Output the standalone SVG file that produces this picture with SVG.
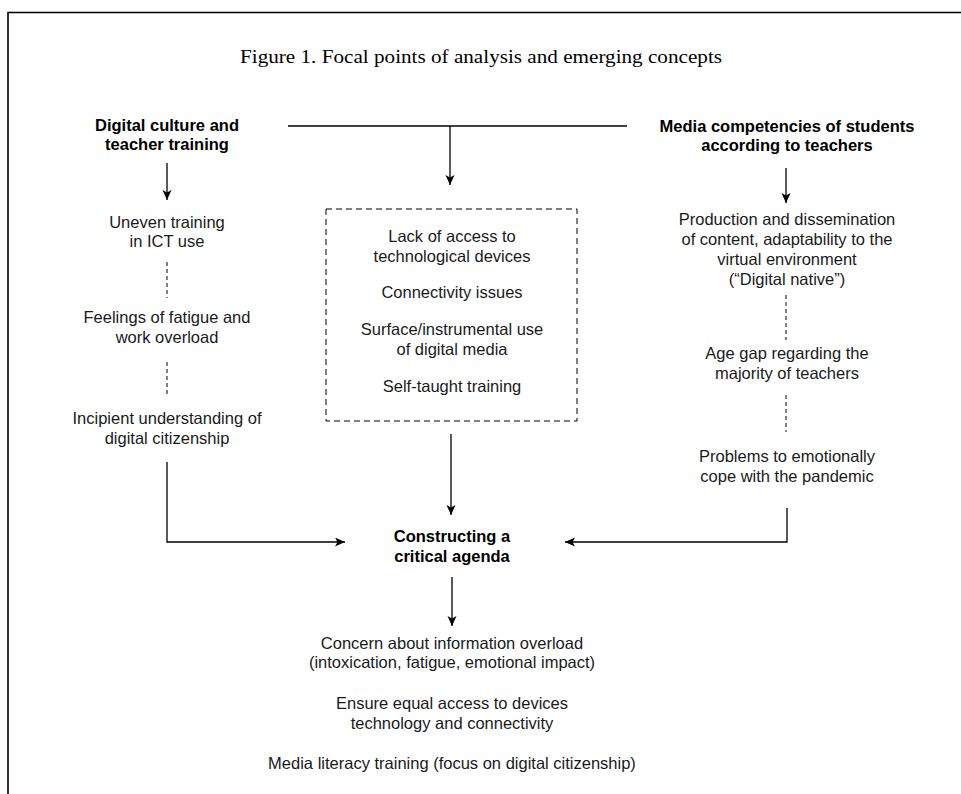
<svg xmlns="http://www.w3.org/2000/svg" width="961" height="794" viewBox="0 0 961 794">
<style>
  .t { font-family: "Liberation Sans", Arial, sans-serif; font-size: 16.5px; fill: #1a1a1a; text-anchor: middle; }
  .b { font-weight: bold; fill: #000; }
  .title { font-family: "Liberation Serif", "Times New Roman", serif; font-size: 19px; fill: #000; text-anchor: middle; }
  .ln { stroke: #000; stroke-width: 1.3; fill: none; }
  .ds { stroke: #000; stroke-width: 1; fill: none; stroke-dasharray: 4 3; }
  .box { stroke: #000; stroke-width: 1; fill: none; stroke-dasharray: 6 4; }
</style>
<defs>
  <marker id="arr" markerUnits="userSpaceOnUse" markerWidth="12" markerHeight="10" refX="10" refY="4.5" orient="auto">
    <path d="M0,0 L10,4.5 L0,9 L2.5,4.5 z" fill="#000"/>
  </marker>
</defs>
<rect width="961" height="794" fill="#fff"/>
<g id="frame">
  <path d="M8,794 L8,12.5 L961,12.5" stroke="#000" stroke-width="1.6" fill="none"/>
</g>
<g id="title">
  <text class="title" x="481" y="63" textLength="482" lengthAdjust="spacingAndGlyphs">Figure 1. Focal points of analysis and emerging concepts</text>
</g>
<g id="connectors">
  <line class="ln" x1="288" y1="126" x2="627" y2="126"/>
  <line class="ln" x1="450" y1="126" x2="450" y2="185" marker-end="url(#arr)"/>
  <line class="ln" x1="167" y1="163" x2="167" y2="200" marker-end="url(#arr)"/>
  <line class="ln" x1="786" y1="168" x2="786" y2="203" marker-end="url(#arr)"/>
  <line class="ds" x1="167" y1="262" x2="167" y2="298"/>
  <line class="ds" x1="167" y1="362" x2="167" y2="397"/>
  <line class="ds" x1="786" y1="295" x2="786" y2="340"/>
  <line class="ds" x1="786" y1="395" x2="786" y2="432"/>
  <line class="ln" x1="451" y1="434" x2="451" y2="515" marker-end="url(#arr)"/>
  <polyline class="ln" points="167,462 167,542 345,542" marker-end="url(#arr)"/>
  <polyline class="ln" points="787,508 787,542 565,542" marker-end="url(#arr)"/>
  <line class="ln" x1="452" y1="577" x2="452" y2="626" marker-end="url(#arr)"/>
</g>
<g id="digital-culture">
  <text class="t b" x="167" y="131">Digital culture and</text>
  <text class="t b" x="167" y="150">teacher training</text>
</g>
<g id="uneven-training">
  <text class="t" x="167" y="228">Uneven training</text>
  <text class="t" x="167" y="247">in ICT use</text>
</g>
<g id="fatigue">
  <text class="t" x="167" y="323">Feelings of fatigue and</text>
  <text class="t" x="167" y="343">work overload</text>
</g>
<g id="citizenship">
  <text class="t" x="167" y="424">Incipient understanding of</text>
  <text class="t" x="167" y="444">digital citizenship</text>
</g>
<g id="media-competencies">
  <text class="t b" x="787" y="132">Media competencies of students</text>
  <text class="t b" x="787" y="151">according to teachers</text>
</g>
<g id="production">
  <text class="t" x="787" y="225">Production and dissemination</text>
  <text class="t" x="787" y="245">of content, adaptability to the</text>
  <text class="t" x="787" y="265">virtual environment</text>
  <text class="t" x="787" y="285">(“Digital native”)</text>
</g>
<g id="age-gap">
  <text class="t" x="787" y="359">Age gap regarding the</text>
  <text class="t" x="787" y="379">majority of teachers</text>
</g>
<g id="problems">
  <text class="t" x="787" y="462">Problems to emotionally</text>
  <text class="t" x="787" y="482">cope with the pandemic</text>
</g>
<g id="center-box">
  <rect class="box" x="326" y="209" width="251" height="212"/>
  <text class="t" x="452" y="242">Lack of access to</text>
  <text class="t" x="452" y="262">technological devices</text>
  <text class="t" x="452" y="298">Connectivity issues</text>
  <text class="t" x="452" y="335">Surface/instrumental use</text>
  <text class="t" x="452" y="355">of digital media</text>
  <text class="t" x="452" y="392">Self-taught training</text>
</g>
<g id="critical-agenda">
  <text class="t b" x="452" y="542">Constructing a</text>
  <text class="t b" x="452" y="562">critical agenda</text>
</g>
<g id="outcomes">
  <text class="t" x="452" y="649">Concern about information overload</text>
  <text class="t" x="452" y="668">(intoxication, fatigue, emotional impact)</text>
  <text class="t" x="452" y="709">Ensure equal access to devices</text>
  <text class="t" x="452" y="729">technology and connectivity</text>
  <text class="t" x="452" y="769">Media literacy training (focus on digital citizenship)</text>
</g>
</svg>
